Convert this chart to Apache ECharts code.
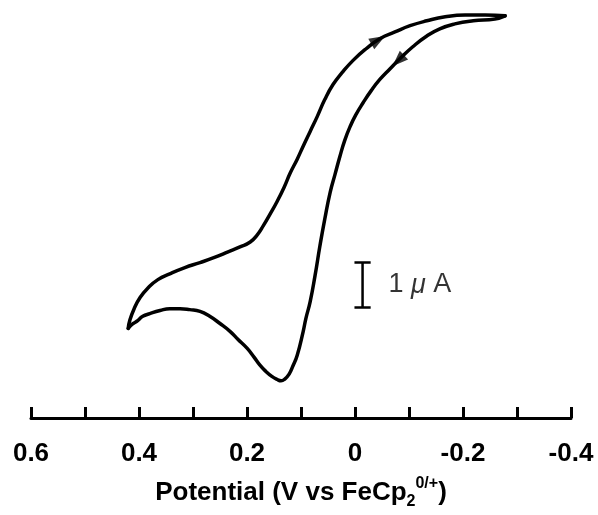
<!DOCTYPE html>
<html>
<head>
    <meta charset="utf-8">
    <script type="text/javascript" src="https://cdn.jsdelivr.net/npm/echarts@6/dist/echarts.min.js"></script>
    <style>
        body { margin: 0; background: #fff; }
    </style>
</head>
<body>
<div id="main" style="width:598px;height:515px"></div>
<script type="text/javascript">
    // forward scan (0.42 V -> -0.28 V), potential in V, current in uA (arbitrary zero)
    var fwdE = [0.420, 0.417, 0.409, 0.398, 0.383, 0.365, 0.343, 0.315, 0.287, 0.259, 0.235, 0.213, 0.194, 0.181, 0.170, 0.156, 0.144, 0.131, 0.120, 0.107, 0.096, 0.083, 0.070, 0.056, 0.041, 0.024, 0.004, -0.020, -0.046, -0.074, -0.102, -0.133, -0.167, -0.204, -0.241, -0.278];
    var fwdI = [2.00, 2.18, 2.44, 2.69, 2.91, 3.09, 3.22, 3.36, 3.47, 3.59, 3.71, 3.82, 3.93, 4.09, 4.29, 4.58, 4.84, 5.16, 5.47, 5.78, 6.07, 6.40, 6.73, 7.11, 7.44, 7.71, 7.98, 8.24, 8.47, 8.62, 8.76, 8.87, 8.96, 9.00, 9.00, 8.98];
    // reverse scan (-0.28 V -> 0.42 V)
    var revE = [-0.278, -0.259, -0.219, -0.185, -0.157, -0.133, -0.107, -0.083, -0.065, -0.046, -0.030, -0.015, -0.002, 0.009, 0.019, 0.028, 0.037, 0.046, 0.056, 0.065, 0.074, 0.083, 0.091, 0.096, 0.107, 0.115, 0.122, 0.130, 0.137, 0.144, 0.154, 0.165, 0.176, 0.187, 0.200, 0.217, 0.231, 0.250, 0.269, 0.287, 0.306, 0.324, 0.343, 0.361, 0.380, 0.393, 0.404, 0.413, 0.420];
    var revI = [8.98, 8.91, 8.87, 8.80, 8.69, 8.53, 8.29, 8.02, 7.80, 7.56, 7.31, 7.04, 6.78, 6.51, 6.20, 5.84, 5.44, 5.04, 4.44, 3.84, 3.18, 2.60, 2.22, 1.93, 1.40, 1.16, 0.98, 0.87, 0.83, 0.86, 0.93, 1.04, 1.18, 1.36, 1.56, 1.76, 1.93, 2.11, 2.27, 2.38, 2.42, 2.44, 2.44, 2.40, 2.33, 2.27, 2.16, 2.09, 2.00];
    // direction arrows: [E, I, rotation in degrees]
    var arrows = [[-0.043, 8.44, -60], [-0.080, 7.98, 134]];
    // 1 uA scale bar
    var barE = -0.014;
    var barLow = 2.47;
    var barHigh = 3.47;
    var xTicks = [-0.4, -0.2, 0, 0.2, 0.4, 0.6];

    function pairs(xs, ys) {
        var out = [];
        for (var i = 0; i < xs.length; i++) {
            out.push([xs[i], ys[i]]);
        }
        return out;
    }

    var cap = 0.015;
    var barData = [
        [barE - cap, barHigh], [barE + cap, barHigh], '-',
        [barE, barHigh], [barE, barLow], '-',
        [barE - cap, barLow], [barE + cap, barLow]
    ];

    var font = 'Liberation Sans, Arial, sans-serif';
    var myChart = echarts.init(document.getElementById('main'));
    var option = {
        animation: false,
        grid: {left: 31, right: 27, top: 6, bottom: 95},
        xAxis: {
            type: 'value',
            inverse: true,
            min: -0.4,
            max: 0.6,
            interval: 0.1,
            splitLine: {show: false},
            axisLine: {lineStyle: {color: '#000', width: 3}},
            axisTick: {inside: true, length: 11, lineStyle: {color: '#000', width: 3}},
            axisLabel: {
                margin: 23,
                color: '#000',
                fontSize: 26,
                fontWeight: 'bold',
                fontFamily: font,
                formatter: function (v) {
                    var r = Math.round(v * 10) / 10;
                    for (var i = 0; i < xTicks.length; i++) {
                        if (Math.abs(xTicks[i] - r) < 1e-6) return String(xTicks[i]);
                    }
                    return '';
                }
            },
            name: '{b|Potential (V vs FeCp}{sub|2}{sup|0/+}{b|)}',
            nameLocation: 'middle',
            nameGap: 58,
            nameTextStyle: {
                rich: {
                    b: {fontSize: 26, fontWeight: 'bold', fontFamily: font, color: '#000', lineHeight: 34},
                    sub: {fontSize: 16, fontWeight: 'bold', fontFamily: font, color: '#000', verticalAlign: 'bottom', lineHeight: 34},
                    sup: {fontSize: 16, fontWeight: 'bold', fontFamily: font, color: '#000', verticalAlign: 'top', lineHeight: 34}
                }
            }
        },
        yAxis: {
            type: 'value',
            min: 0,
            max: 9.2,
            show: false
        },
        series: [
            {
                type: 'line',
                data: pairs(fwdE, fwdI),
                smooth: 0.5,
                symbol: 'none',
                clip: false,
                lineStyle: {color: '#000', width: 3.5, cap: 'round', join: 'round'}
            },
            {
                type: 'line',
                data: pairs(revE, revI),
                smooth: 0.5,
                symbol: 'none',
                clip: false,
                lineStyle: {color: '#000', width: 3.5, cap: 'round', join: 'round'}
            },
            {
                type: 'scatter',
                data: arrows.map(function (a) {
                    return {value: [a[0], a[1]], symbolRotate: a[2]};
                }),
                symbol: 'triangle',
                symbolSize: [12, 16],
                itemStyle: {color: '#000'}
            },
            {
                type: 'line',
                data: barData,
                symbol: 'none',
                connectNulls: false,
                lineStyle: {color: '#000', width: 2.5}
            },
            {
                type: 'scatter',
                data: [[barE, (barLow + barHigh) / 2]],
                symbolSize: 0,
                label: {
                    show: true,
                    position: 'right',
                    distance: 26,
                    color: '#000',
                    textBorderWidth: 0,
                    formatter: '{n|1 }{m|μ}{n| A}',
                    rich: {
                        n: {fontSize: 27, fontFamily: font, color: '#000'},
                        m: {fontSize: 27, fontFamily: font, fontStyle: 'italic', color: '#000'}
                    }
                }
            }
        ]
    };
    myChart.setOption(option);
</script>
</body>
</html>
